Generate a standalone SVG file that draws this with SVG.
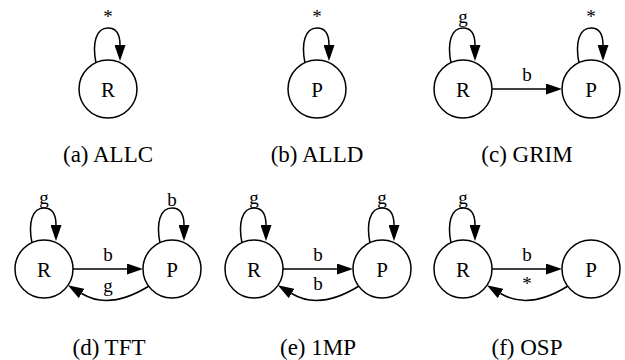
<svg xmlns="http://www.w3.org/2000/svg" width="625" height="360" viewBox="0 0 625 360">
  <defs>
    <marker id="arrow" viewBox="0 0 16 11" refX="0" refY="5.5" markerWidth="16" markerHeight="11" markerUnits="userSpaceOnUse" orient="auto">
      <path d="M0,0 L16,5.5 L0,11 z" fill="#000"/>
    </marker>
  </defs>
  <style>
    .node circle { fill: #fff; stroke: #000; stroke-width: 1.5; }
    .node text { font-family: "Liberation Serif", "Times New Roman", serif; font-size: 21px; text-anchor: middle; fill: #000; }
    .edge { fill: none; stroke: #000; stroke-width: 1.5; marker-end: url(#arrow); }
    .elabel { font-family: "Liberation Serif", "Times New Roman", serif; font-size: 19px; text-anchor: middle; fill: #000; }
    .caption { font-family: "Liberation Serif", "Times New Roman", serif; font-size: 23px; text-anchor: middle; fill: #000; }
  </style>

  <!-- (a) ALLC -->
  <g id="allc" transform="translate(108,89)">
    <g class="connectors">
      <path class="edge" d="M-12,-26 C-16,-46 -12,-61 0,-61 C9,-61 12,-54 12,-44"/>
      <text class="elabel" x="0" y="-66">*</text>
    </g>
    <g id="allc-R" class="node"><circle cx="0" cy="0" r="29"/><text x="0" y="7.5">R</text></g>
  </g>
  <text class="caption" x="108" y="162">(a) ALLC</text>

  <!-- (b) ALLD -->
  <g id="alld" transform="translate(317,89)">
    <g class="connectors">
      <path class="edge" d="M-12,-26 C-16,-46 -12,-61 0,-61 C9,-61 12,-54 12,-44"/>
      <text class="elabel" x="0" y="-66">*</text>
    </g>
    <g id="alld-P" class="node"><circle cx="0" cy="0" r="29"/><text x="0" y="7.5">P</text></g>
  </g>
  <text class="caption" x="317" y="162">(b) ALLD</text>

  <!-- (c) GRIM -->
  <g id="grim" transform="translate(463,89)">
    <g class="connectors">
      <path class="edge" d="M-12,-26 C-16,-46 -12,-61 0,-61 C9,-61 12,-54 12,-44"/>
      <text class="elabel" x="0" y="-66">g</text>
      <path class="edge" d="M116,-26 C112,-46 116,-61 128,-61 C137,-61 140,-54 140,-44"/>
      <text class="elabel" x="128" y="-66">*</text>
      <path class="edge" d="M29,0 L83,0"/>
      <text class="elabel" x="64" y="-8">b</text>
    </g>
    <g id="grim-R" class="node"><circle cx="0" cy="0" r="29"/><text x="0" y="7.5">R</text></g>
    <g id="grim-P" class="node"><circle cx="128" cy="0" r="29"/><text x="128" y="7.5">P</text></g>
  </g>
  <text class="caption" x="527" y="162">(c) GRIM</text>

  <!-- (d) TFT -->
  <g id="tft" transform="translate(44,269)">
    <g class="connectors">
      <path class="edge" d="M-12,-26 C-16,-46 -12,-61 0,-61 C9,-61 12,-54 12,-44"/>
      <text class="elabel" x="0" y="-65">g</text>
      <path class="edge" d="M116,-26 C112,-46 116,-61 128,-61 C137,-61 140,-54 140,-44"/>
      <text class="elabel" x="128" y="-63">b</text>
      <path class="edge" d="M29,0 L83,0"/>
      <text class="elabel" x="64" y="-8">b</text>
      <path class="edge" d="M105,17 C76,35 55,35 37.6,24.5"/>
      <text class="elabel" x="64" y="23">g</text>
    </g>
    <g id="tft-R" class="node"><circle cx="0" cy="0" r="29"/><text x="0" y="7.5">R</text></g>
    <g id="tft-P" class="node"><circle cx="128" cy="0" r="29"/><text x="128" y="7.5">P</text></g>
  </g>
  <text class="caption" x="109" y="355">(d) TFT</text>

  <!-- (e) 1MP -->
  <g id="onemp" transform="translate(254,269)">
    <g class="connectors">
      <path class="edge" d="M-12,-26 C-16,-46 -12,-61 0,-61 C9,-61 12,-54 12,-44"/>
      <text class="elabel" x="0" y="-65">g</text>
      <path class="edge" d="M116,-26 C112,-46 116,-61 128,-61 C137,-61 140,-54 140,-44"/>
      <text class="elabel" x="128" y="-65">g</text>
      <path class="edge" d="M29,0 L83,0"/>
      <text class="elabel" x="64" y="-8">b</text>
      <path class="edge" d="M105,17 C76,35 55,35 37.6,24.5"/>
      <text class="elabel" x="64" y="21">b</text>
    </g>
    <g id="onemp-R" class="node"><circle cx="0" cy="0" r="29"/><text x="0" y="7.5">R</text></g>
    <g id="onemp-P" class="node"><circle cx="128" cy="0" r="29"/><text x="128" y="7.5">P</text></g>
  </g>
  <text class="caption" x="318" y="355">(e) 1MP</text>

  <!-- (f) OSP -->
  <g id="osp" transform="translate(463,269)">
    <g class="connectors">
      <path class="edge" d="M-12,-26 C-16,-46 -12,-61 0,-61 C9,-61 12,-54 12,-44"/>
      <text class="elabel" x="0" y="-65">g</text>
      <path class="edge" d="M29,0 L83,0"/>
      <text class="elabel" x="64" y="-8">b</text>
      <path class="edge" d="M105,17 C76,35 55,35 37.6,24.5"/>
      <text class="elabel" x="64" y="21">*</text>
    </g>
    <g id="osp-R" class="node"><circle cx="0" cy="0" r="29"/><text x="0" y="7.5">R</text></g>
    <g id="osp-P" class="node"><circle cx="128" cy="0" r="29"/><text x="128" y="7.5">P</text></g>
  </g>
  <text class="caption" x="527" y="355">(f) OSP</text>
</svg>
